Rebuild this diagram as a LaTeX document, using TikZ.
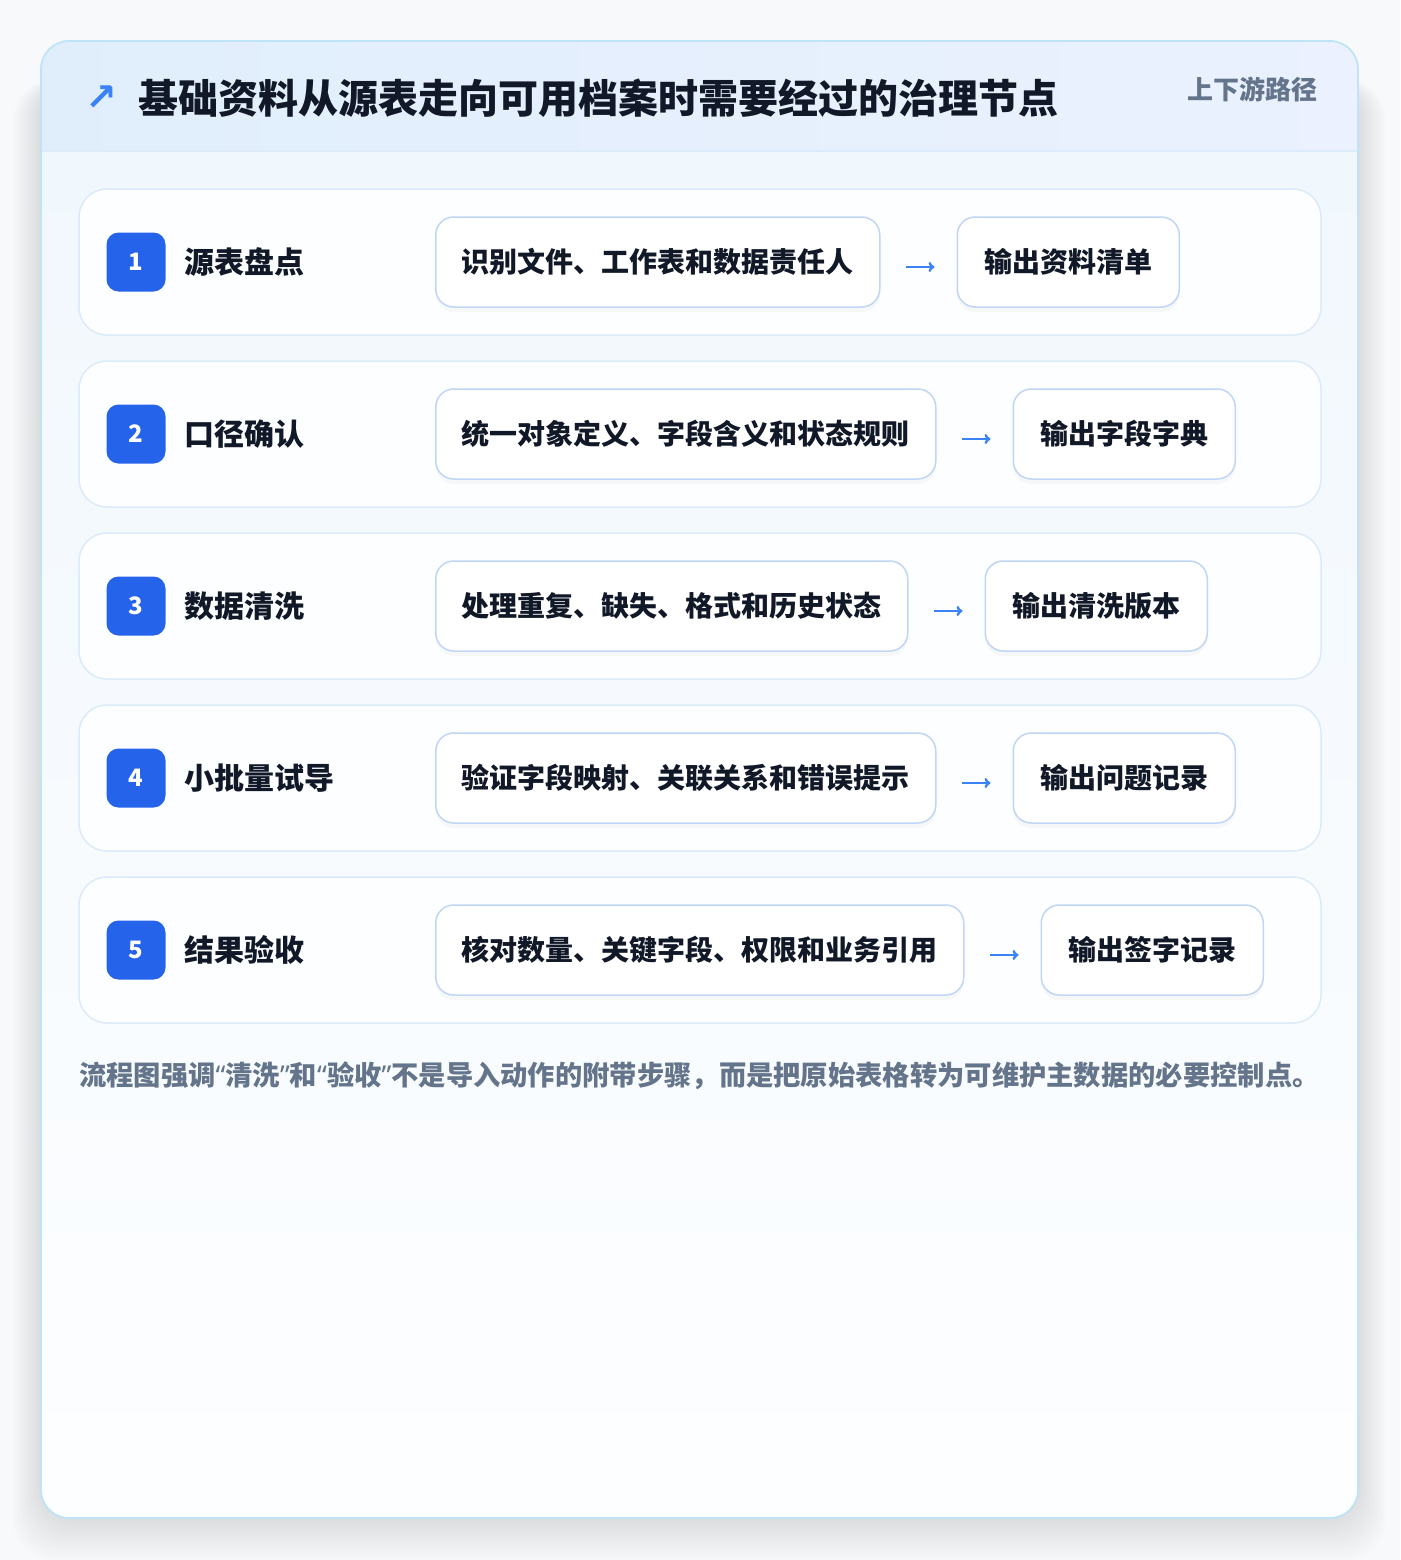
\documentclass[tikz,border=0pt]{standalone}
\usepackage{fontspec}
\setmainfont{Noto Sans CJK SC}
\newfontfamily\symfont{DejaVu Sans}
\newfontfamily\quotefont{Noto Sans}
\newfontfamily\heavyfont{Noto Sans CJK SC Black}
\usepackage{tikz}
\usetikzlibrary{positioning,shadows,arrows.meta}

\definecolor{pagebg}{HTML}{F8F9FB}
\definecolor{cardline}{HTML}{BFE3F7}
\definecolor{headleft}{HTML}{E0EEFC}
\definecolor{headright}{HTML}{EBF1FE}
\definecolor{bodytop}{HTML}{F0F7FD}
\definecolor{bodybottom}{HTML}{FDFEFF}
\definecolor{rowline}{HTML}{DCEAFA}
\definecolor{boxline}{HTML}{BFD6F4}
\definecolor{badgeblue}{HTML}{2563EB}
\definecolor{inkdark}{HTML}{111827}
\definecolor{inkgray}{HTML}{64748B}
\definecolor{flowblue}{HTML}{3B82F6}

\newcommand{\openq}{{\quotefont\bfseries “}}
\newcommand{\closeq}{{\quotefont\bfseries ”}}

\tikzset{
  rowbox/.style={draw=rowline, line width=1.5pt, fill=bodybottom, rounded corners=28pt,
    minimum width=1242pt, minimum height=146pt, inner sep=0pt},
  badge/.style={fill=badgeblue, rounded corners=12pt, minimum size=59pt, inner sep=0pt,
    text=white, font=\fontsize{24}{28}\selectfont\bfseries},
  steplabel/.style={inner sep=0pt, text=inkdark, font=\fontsize{30}{36}\selectfont\bfseries},
  stepbox/.style={draw=boxline, line width=1.5pt, fill=white, rounded corners=18pt,
    minimum height=90pt, inner xsep=26pt, text=inkdark,
    font=\fontsize{28}{34}\selectfont\bfseries,
    drop shadow={opacity=0.05, shadow xshift=0pt, shadow yshift=-5pt}},
  outbox/.style={stepbox, inner xsep=27pt},
  flow/.style={-{To[length=6pt,width=10pt]}, flowblue, line width=2.4pt,
    shorten <=25pt, shorten >=22pt},
}

\begin{document}
\begin{tikzpicture}[x=1pt, y=-1pt]
  % page and soft shadow
  \fill[pagebg] (0,0) rectangle (1400,1560);
  \useasboundingbox (0,0) rectangle (1400,1560);
  \foreach \i in {1,...,14}
    \fill[black, opacity=0.007, rounded corners=40pt]
      (41-2*\i,80) rectangle (1358+2*\i,1518+3*\i);

  % card
  \shade[top color=bodytop, bottom color=bodybottom, rounded corners=28pt]
    (41,41) rectangle (1358,1518);
  \begin{scope}
    \clip[rounded corners=28pt] (41,41) rectangle (1358,1518);
    \shade[left color=headleft, right color=headright] (41,41) rectangle (1358,151);
    \draw[rowline, line width=1.5pt] (41,151) -- (1358,151);
  \end{scope}
  \draw[cardline, line width=1.8pt, rounded corners=28pt] (41,41) rectangle (1358,1518);

  % header
  \node[text=flowblue, font=\symfont\fontsize{38}{42}\selectfont\bfseries] (icon) at (101,98) {↗};
  \node[anchor=west, inner sep=0pt, text=inkdark, font=\heavyfont\fontsize{40}{46}\selectfont]
    (title) at (138,98) {基础资料从源表走向可用档案时需要经过的治理节点};
  \node[anchor=east, inner sep=0pt, text=inkgray, font=\fontsize{26}{30}\selectfont\bfseries]
    (tag) at (1318,89) {上下游路径};

  % row 1
  \node[rowbox] (r1) at (700,262) {};
  \node[badge] (b1) at (136,262) {1};
  \node[steplabel, right=19pt of b1] (l1) {源表盘点};
  \node[stepbox, anchor=west] (s1) at (435,262) {识别文件、工作表和数据责任人};
  \node[outbox, right=76pt of s1] (o1) {输出资料清单};
  \draw[flow] ([yshift=-5pt]s1.east) -- ([yshift=-5pt]o1.west);

  % row 2
  \node[rowbox] (r2) at (700,434) {};
  \node[badge] (b2) at (136,434) {2};
  \node[steplabel, right=19pt of b2] (l2) {口径确认};
  \node[stepbox, anchor=west] (s2) at (435,434) {统一对象定义、字段含义和状态规则};
  \node[outbox, right=76pt of s2] (o2) {输出字段字典};
  \draw[flow] ([yshift=-5pt]s2.east) -- ([yshift=-5pt]o2.west);

  % row 3
  \node[rowbox] (r3) at (700,606) {};
  \node[badge] (b3) at (136,606) {3};
  \node[steplabel, right=19pt of b3] (l3) {数据清洗};
  \node[stepbox, anchor=west] (s3) at (435,606) {处理重复、缺失、格式和历史状态};
  \node[outbox, right=76pt of s3] (o3) {输出清洗版本};
  \draw[flow] ([yshift=-5pt]s3.east) -- ([yshift=-5pt]o3.west);

  % row 4
  \node[rowbox] (r4) at (700,778) {};
  \node[badge] (b4) at (136,778) {4};
  \node[steplabel, right=19pt of b4] (l4) {小批量试导};
  \node[stepbox, anchor=west] (s4) at (435,778) {验证字段映射、关联关系和错误提示};
  \node[outbox, right=76pt of s4] (o4) {输出问题记录};
  \draw[flow] ([yshift=-5pt]s4.east) -- ([yshift=-5pt]o4.west);

  % row 5
  \node[rowbox] (r5) at (700,950) {};
  \node[badge] (b5) at (136,950) {5};
  \node[steplabel, right=19pt of b5] (l5) {结果验收};
  \node[stepbox, anchor=west] (s5) at (435,950) {核对数量、关键字段、权限和业务引用};
  \node[outbox, right=76pt of s5] (o5) {输出签字记录};
  \draw[flow] ([yshift=-5pt]s5.east) -- ([yshift=-5pt]o5.west);

  % note
  \node[anchor=west, inner sep=0pt, text=inkgray, font=\fontsize{27.3}{31}\selectfont\bfseries]
    (note) at (79,1076) {流程图强调\openq 清洗\closeq 和\openq 验收\closeq 不是导入动作的附带步骤，而是把原始表格转为可维护主数据的必要控制点。};
\end{tikzpicture}
\end{document}
